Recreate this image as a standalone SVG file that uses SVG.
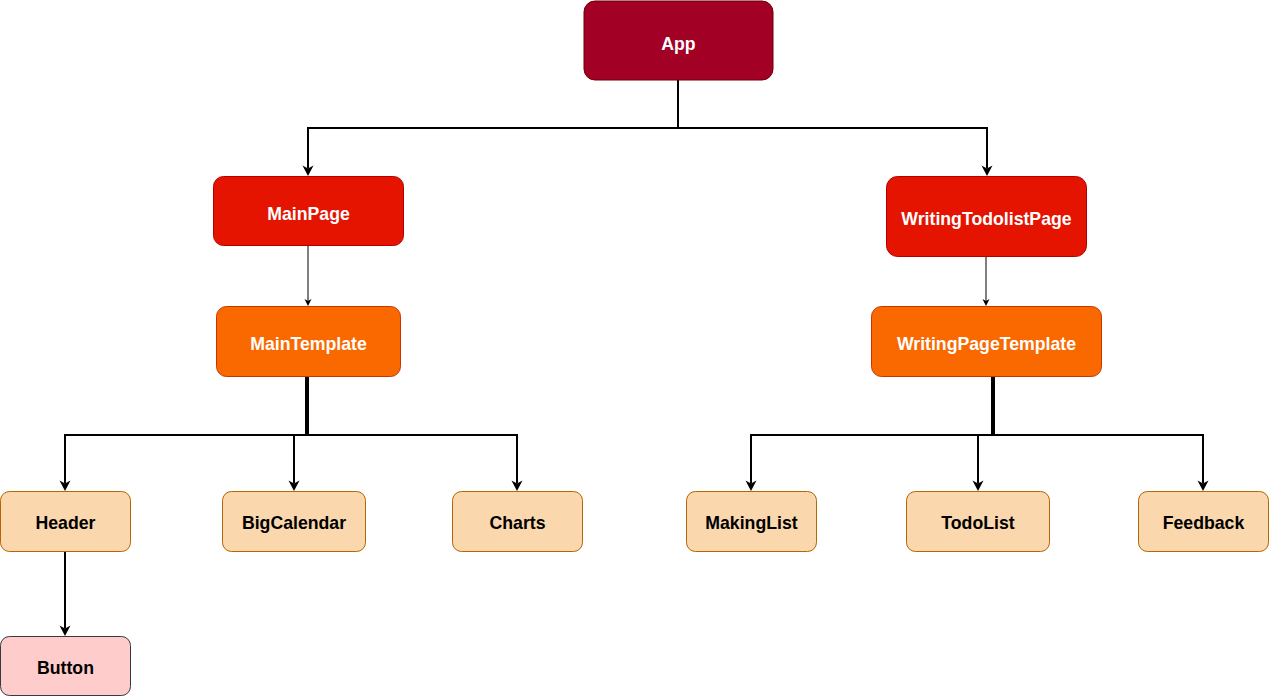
<svg xmlns="http://www.w3.org/2000/svg" width="1269" height="696" viewBox="0 0 1269 696">
<style>
.n text{font-family:"Liberation Sans",Arial,sans-serif;font-weight:bold;font-size:17.7px;text-anchor:middle;dominant-baseline:central}
.w text{fill:#ffffff}
.b text{fill:#000000}
.app rect{fill:#a20025;stroke:#6f0000}
.page rect{fill:#e51400;stroke:#b20000}
.tpl rect{fill:#fa6800;stroke:#c73500}
.leaf rect{fill:#fad7ac;stroke:#b46504}
.btn rect{fill:#ffcccc;stroke:#36393d}
.c path{fill:none;stroke:#000;stroke-width:2}
.c path.thin{stroke-width:1}
</style>
<defs>
<marker id="arr" markerUnits="userSpaceOnUse" viewBox="-4 -6 12 12" markerWidth="12" markerHeight="12" refX="0" refY="0" orient="auto">
<path d="M-3,-5.5 L7.5,0 L-3,5.5 L0,0 Z" fill="#000"/>
</marker>
<marker id="arrs" markerUnits="userSpaceOnUse" viewBox="-3 -4 8 8" markerWidth="8" markerHeight="8" refX="0" refY="0" orient="auto">
<path d="M-2,-3.5 L5,0 L-2,3.5 L0,0 Z" fill="#000"/>
</marker>
</defs>
<g class="c" id="connectors">
<path d="M678,80 V128 H308 V168.5" marker-end="url(#arr)"/>
<path d="M678,80 V128 H987 V168.5" marker-end="url(#arr)"/>
<path class="thin" d="M308,245 V301" marker-end="url(#arrs)"/>
<path class="thin" d="M986,256 V301" marker-end="url(#arrs)"/>
<path d="M306,376 V435 H65 V483.5" marker-end="url(#arr)"/>
<path d="M308,376 V435 H294 V483.5" marker-end="url(#arr)"/>
<path d="M307,376 V435 H517 V483.5" marker-end="url(#arr)"/>
<path d="M992,376 V435 H751 V483.5" marker-end="url(#arr)"/>
<path d="M994,376 V435 H978 V483.5" marker-end="url(#arr)"/>
<path d="M993,376 V435 H1203 V483.5" marker-end="url(#arr)"/>
<path d="M65,551 V628.5" marker-end="url(#arr)"/>
</g>
<g id="App" class="n w app"><rect x="584" y="1" width="189" height="79" rx="11"/><text x="678.5" y="44">App</text></g>
<g id="MainPage" class="n w page"><rect x="213.5" y="176.5" width="190" height="69" rx="10"/><text x="308.5" y="214">MainPage</text></g>
<g id="WritingTodolistPage" class="n w page"><rect x="886.5" y="176.5" width="200" height="80" rx="11"/><text x="986.5" y="219">WritingTodolistPage</text></g>
<g id="MainTemplate" class="n w tpl"><rect x="216.5" y="306.5" width="184" height="70" rx="10"/><text x="308.5" y="344">MainTemplate</text></g>
<g id="WritingPageTemplate" class="n w tpl"><rect x="871.5" y="306.5" width="230" height="70" rx="10"/><text x="986.5" y="344">WritingPageTemplate</text></g>
<g id="Header" class="n b leaf"><rect x="0.5" y="491.5" width="130" height="60" rx="9"/><text x="65.5" y="523">Header</text></g>
<g id="BigCalendar" class="n b leaf"><rect x="222.5" y="491.5" width="143" height="60" rx="9"/><text x="294" y="523">BigCalendar</text></g>
<g id="Charts" class="n b leaf"><rect x="452.5" y="491.5" width="130" height="60" rx="9"/><text x="517.5" y="523">Charts</text></g>
<g id="MakingList" class="n b leaf"><rect x="686.5" y="491.5" width="130" height="60" rx="9"/><text x="751.5" y="523">MakingList</text></g>
<g id="TodoList" class="n b leaf"><rect x="906.5" y="491.5" width="143" height="60" rx="9"/><text x="978" y="523">TodoList</text></g>
<g id="Feedback" class="n b leaf"><rect x="1138.5" y="491.5" width="130" height="60" rx="9"/><text x="1203.5" y="523">Feedback</text></g>
<g id="Button" class="n b btn"><rect x="0.5" y="636.5" width="130" height="59" rx="9"/><text x="65.5" y="668">Button</text></g>
</svg>
